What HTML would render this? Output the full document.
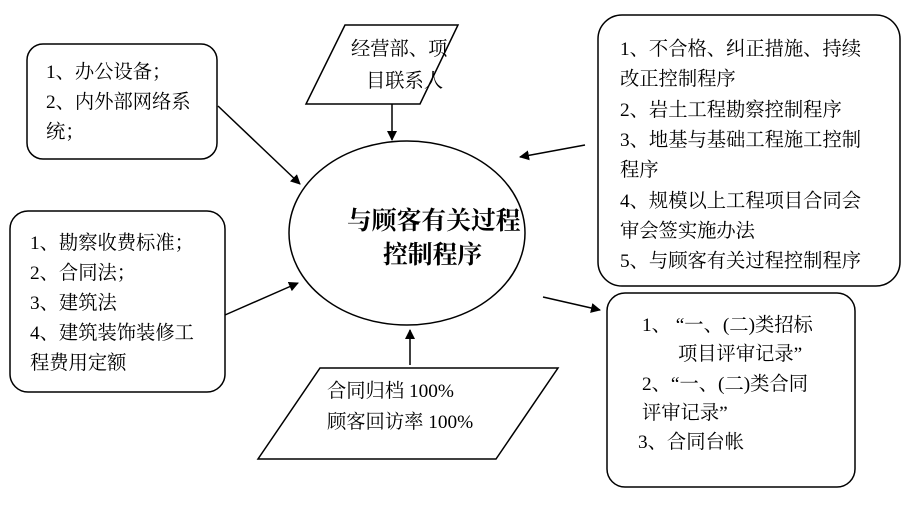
<!DOCTYPE html>
<html><head><meta charset="utf-8"><style>
html,body{margin:0;padding:0;background:#fff;}
svg text{font-family:"Liberation Serif","Noto Serif CJK SC","Noto Sans CJK SC",serif;font-size:19.3px;fill:#000;}
</style></head><body>
<svg width="910" height="500" viewBox="0 0 910 500" xmlns="http://www.w3.org/2000/svg">
<defs><marker id="a" markerWidth="10" markerHeight="10" refX="9" refY="5" orient="auto" markerUnits="userSpaceOnUse"><path d="M0,0 L10,5 L0,10 z" fill="#000"/></marker></defs>
<g fill="none" stroke="#000" stroke-width="1.5">
<rect x="27" y="44" width="190" height="115" rx="16"/>
<polygon points="345,25 458,25 420,104 306,104"/>
<ellipse cx="407" cy="233" rx="118" ry="92"/>
<rect x="10" y="211" width="215" height="181" rx="18"/>
<rect x="598" y="15" width="302" height="271" rx="24"/>
<rect x="607" y="293" width="248" height="194" rx="18"/>
<polygon points="320,368 558,368 496,459 258,459"/>
<line x1="392" y1="104" x2="392" y2="140" marker-end="url(#a)"/>
<line x1="218" y1="106" x2="300" y2="184" marker-end="url(#a)"/>
<line x1="225" y1="315" x2="298" y2="283" marker-end="url(#a)"/>
<line x1="585" y1="145" x2="520" y2="157" marker-end="url(#a)"/>
<line x1="543" y1="297" x2="600" y2="310" marker-end="url(#a)"/>
<line x1="410" y1="365" x2="410" y2="330" marker-end="url(#a)"/>
</g>
<text x="46" y="78">1、办公设备；</text>
<text x="46" y="108">2、内外部网络系</text>
<text x="46" y="138">统；</text>
<text x="351" y="55">经营部、项</text>
<text x="366" y="87">目联系人</text>
<text x="347" y="229" style="font-weight:bold;font-size:24.8px">与顾客有关过程</text>
<text x="383" y="263" style="font-weight:bold;font-size:24.8px">控制程序</text>
<text x="30" y="249">1、勘察收费标准；</text>
<text x="30" y="279">2、合同法；</text>
<text x="30" y="309">3、建筑法</text>
<text x="30" y="339">4、建筑装饰装修工</text>
<text x="30" y="369">程费用定额</text>
<text x="620" y="55">1、不合格、纠正措施、持续</text>
<text x="620" y="85">改正控制程序</text>
<text x="620" y="116">2、岩土工程勘察控制程序</text>
<text x="620" y="146">3、地基与基础工程施工控制</text>
<text x="620" y="176">程序</text>
<text x="620" y="207">4、规模以上工程项目合同会</text>
<text x="620" y="237">审会签实施办法</text>
<text x="620" y="267">5、与顾客有关过程控制程序</text>
<text x="642" y="331">1、 “一、(二)类招标</text>
<text x="678" y="360">项目评审记录”</text>
<text x="642" y="390">2、“一、(二)类合同</text>
<text x="642" y="419">评审记录”</text>
<text x="638" y="448">3、合同台帐</text>
<text x="327" y="397">合同归档 100%</text>
<text x="327" y="428">顾客回访率 100%</text>
</svg>
</body></html>
